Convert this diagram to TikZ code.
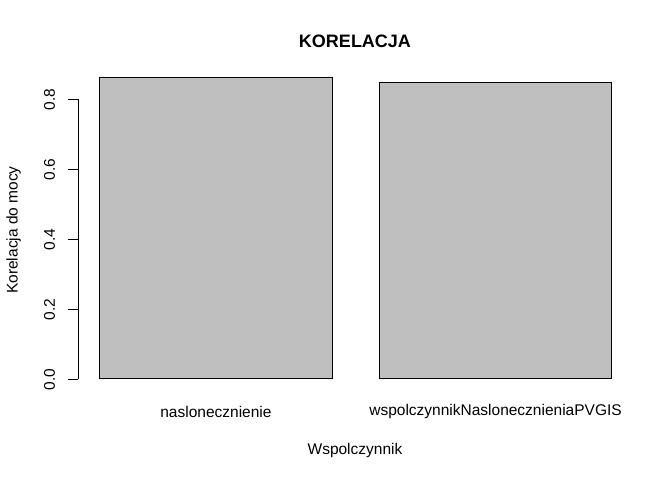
\documentclass[tikz,border=0pt]{standalone}
\usepackage{fontspec}
\setmainfont{Liberation Sans}
\definecolor{barfill}{HTML}{BFBFBF}
\begin{document}
\begin{tikzpicture}[x=1pt,y=-1pt,
  barbox/.style={draw=black, fill=barfill, line width=1pt, inner sep=0pt, anchor=south west, minimum width=232.5pt},
  lbl/.style={inner sep=0pt, font=\fontsize{15.5}{18}\selectfont},
  ttl/.style={inner sep=0pt, font=\fontsize{18}{21}\selectfont\bfseries},
  axisline/.style={line width=0.8pt, black}]
\useasboundingbox (0,0) rectangle (672,480);
\fill[white] (0,0) rectangle (672,480);
% bars
\node[barbox, minimum height=301pt] (b1) at (99.2,379.3) {};
\node[barbox, minimum height=296pt] (b2) at (378.8,379.3) {};
% y axis
\coordinate (a0) at (78.3,379.3);
\coordinate (a8) at (78.3,99.3);
\draw[axisline] (a0) -- (a8);
\foreach \i/\v/\y in {0/0.0/379.3,1/0.2/309.3,2/0.4/239.3,3/0.6/169.3,4/0.8/99.3}{
  \coordinate (t\i) at (78.3,\y);
  \coordinate (u\i) at (68.3,\y);
  \draw[axisline] (t\i) -- (u\i);
  \node[lbl, rotate=90] (l\i) at (49.5,\y) {\v};
}
% labels
\node[ttl] (title) at (355,41) {KORELACJA};
\node[lbl] (n1) at (b1.south |- 0,411.5) {naslonecznienie};
\node[lbl] (n2) at (b2.south |- 0,411.5) {wspolczynnikNaslonecznieniaPVGIS};
\node[lbl] (xl) at (355,450.5) {Wspolczynnik};
\node[lbl, rotate=90] (yl) at (13.5,230) {Korelacja do mocy};
\end{tikzpicture}
\end{document}
